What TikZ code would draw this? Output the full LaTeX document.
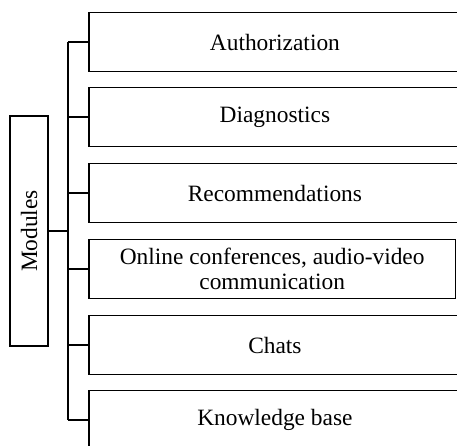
\documentclass[tikz,border=0pt]{standalone}
\usepackage{fontspec}
\setmainfont{Liberation Serif}
\begin{document}
\begin{tikzpicture}[x=1pt,y=-1pt,
  line/.style={line width=2pt, black},
  modbox/.style={draw, line width=1.8pt, minimum width=372pt, minimum height=59pt, inner sep=0pt, align=center, font=\fontsize{23.4}{25}\selectfont},
  rootbox/.style={draw, line width=1.8pt, minimum width=230pt, minimum height=38pt, inner sep=0pt, rotate=90, font=\fontsize{23.4}{25}\selectfont}]
\useasboundingbox (0,0) rectangle (457,446);
\clip (0,0) rectangle (457,446);
\node[rootbox] (root) at (29,231) {Modules};
\node[modbox, anchor=west] (b1) at (88,42) {Authorization};
\node[modbox, anchor=west] (b2) at (88,117) {Diagnostics};
\node[modbox, anchor=west] (b3) at (88,193) {Recommendations};
\node[modbox, anchor=west, minimum width=366.5pt] (b4) at (88,269) {Online conferences, audio-video\\communication};
\node[modbox, anchor=west] (b5) at (88,345) {Chats};
\node[modbox, anchor=west] (b6) at (88,420) {Knowledge base};
\coordinate (t1) at (68,42);
\coordinate (t6) at (68,420);
\draw[line] (t1) -- (t6);
\draw[line] (root.south) -- (root.south -| t1);
\foreach \i in {1,...,6} {\draw[line] (b\i.west) -- (b\i.west -| t1);}
\end{tikzpicture}
\end{document}
